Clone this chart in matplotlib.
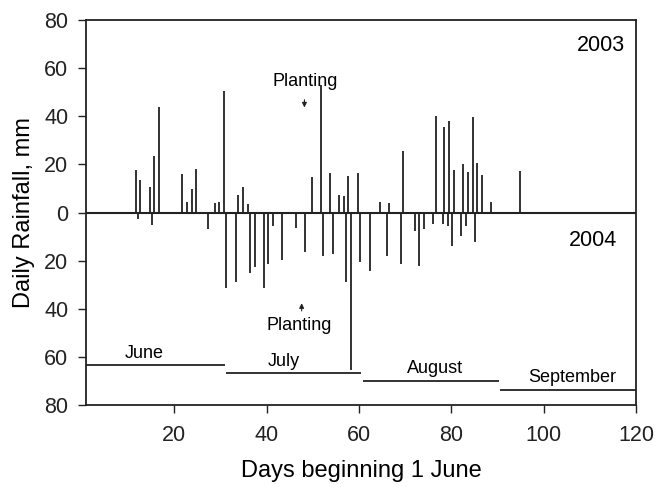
import matplotlib
matplotlib.use("Agg")
from matplotlib import pyplot as plt

plt.rcParams["font.family"] = ["Liberation Sans", "DejaVu Sans"]

# 2003 rainfall (plotted upwards)
days_2003 = [11.8, 12.7, 14.7, 15.7, 16.8, 21.7, 22.7, 23.8, 24.8, 28.8, 29.8, 30.8,
             33.9, 34.9, 35.9, 49.8, 51.7, 53.7, 55.7, 56.7, 57.7, 59.7,
             64.6, 66.6, 69.5, 76.6, 78.5, 79.5, 80.6, 82.6, 83.6, 84.6,
             85.6, 86.6, 88.6, 94.8]
rain_2003 = [17.7, 13.5, 10.5, 23.5, 44, 16, 4.5, 9.6, 18, 3.8, 4.2, 50.5,
             7.5, 10.5, 3.5, 14.6, 53, 16.5, 7.5, 7, 15, 16.5,
             4.5, 4, 25.7, 40, 35.5, 38.2, 17.7, 20.2, 16.7, 39.6,
             20.7, 15.6, 4.6, 17.2]

# 2004 rainfall (plotted downwards)
days_2004 = [12.2, 15.2, 27.3, 31.3, 33.3, 36.4, 37.4, 39.4, 40.4, 41.4, 43.4,
             46.3, 48.4, 52.3, 54.3, 57.3, 58.3, 60.2, 62.3, 66.1, 69.1, 72.1,
             73.1, 74.1, 76.1, 78.1, 79.2, 80.2, 82.2, 83.2, 85.2]
rain_2004 = [2.5, 5, 7, 31.3, 28.7, 25.3, 22.8, 31.3, 21.5, 5.5, 19.7,
             6.6, 16.3, 18, 17.4, 29, 65.2, 20.4, 24.2, 18, 21.2, 7.7,
             22, 6.8, 4.8, 4.8, 5.5, 13.8, 9.8, 5.6, 12.4]

months = ["June", "July", "August", "September"]
month_start = [1, 31.3, 60.9, 90.6]
month_end = [30.9, 60.5, 90.3, 120]
month_level = [-63.2, -66.8, -70, -73.8]
month_label_x = [13.4, 43.7, 76.4, 106.2]
month_label_y = [-58.4, -62, -64.8, -68.5]

fig = plt.figure(figsize=(6.55, 4.87), dpi=100)
ax = fig.add_axes([0.132, 0.168, 0.839, 0.791])

ax.vlines(days_2003, 0, rain_2003, color="#222222", linewidth=1.3)
ax.vlines(days_2004, 0, [-r for r in rain_2004], color="#222222", linewidth=1.3)
ax.axhline(0, color="#222222", linewidth=1.5)

for name, x0, x1, lev, lx, ly in zip(months, month_start, month_end, month_level,
                                     month_label_x, month_label_y):
    ax.hlines(lev, x0, x1, color="#222222", linewidth=1.3)
    ax.text(lx, ly, name, ha="center", va="center", fontsize=13)

ax.text(112.3, 69.6, "2003", ha="center", va="center", fontsize=15.5)
ax.text(110.6, -11.4, "2004", ha="center", va="center", fontsize=15.5)

ax.text(48.4, 54.5, "Planting", ha="center", va="center", fontsize=13)
ax.annotate("", xy=(48.2, 42.5), xytext=(48.2, 48),
            arrowprops=dict(arrowstyle="-|>", color="#222222", lw=0.8,
                            mutation_scale=7))
ax.text(47.0, -47, "Planting", ha="center", va="center", fontsize=13)
ax.annotate("", xy=(47.6, -36.5), xytext=(47.6, -42),
            arrowprops=dict(arrowstyle="-|>", color="#222222", lw=0.8,
                            mutation_scale=7))

ax.set_xlim(1, 120)
ax.set_ylim(-80, 80)
ax.set_xticks([20, 40, 60, 80, 100, 120])
yt = [80, 60, 40, 20, 0, -20, -40, -60, -80]
ax.set_yticks(yt)
ax.set_yticklabels([str(abs(v)) for v in yt])
ax.tick_params(direction="out", length=6, width=1, labelsize=15.5, colors="#222222")
ax.tick_params(axis="x", pad=8)
ax.tick_params(axis="y", pad=7)
for s in ax.spines.values():
    s.set_linewidth(1.3)
    s.set_color("#222222")

ax.set_xlabel("Days beginning 1 June", fontsize=17, labelpad=10)
ax.set_ylabel("Daily Rainfall, mm", fontsize=17, labelpad=7)

fig.savefig("out.png", dpi=100)
